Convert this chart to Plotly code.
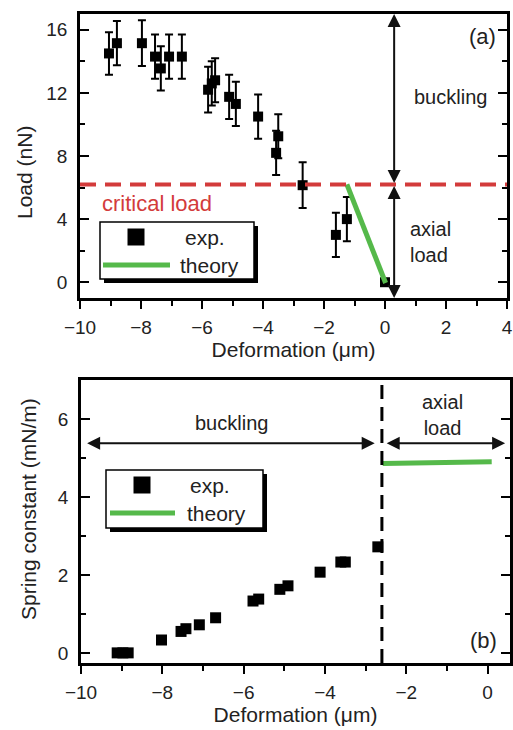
import plotly.graph_objects as go

# ---------------- data ----------------
# Panel (a): load vs deformation
exp_a_x = [-9.05, -8.79, -7.97, -7.54, -7.35, -7.08, -6.66, -5.80, -5.68, -5.57,
           -5.11, -4.89, -4.16, -3.50, -3.57, -2.70, -1.61, -1.25, 0.0]
exp_a_y = [14.5, 15.15, 15.15, 14.3, 13.55, 14.3, 14.3, 12.2, 12.6, 12.8,
           11.75, 11.3, 10.5, 9.25, 8.2, 6.15, 3.0, 4.0, 0.0]
exp_a_err = [1.35, 1.4, 1.45, 1.4, 1.4, 1.4, 1.4, 1.45, 1.4, 1.4,
             1.4, 1.4, 1.4, 1.4, 1.4, 1.45, 1.4, 1.4, 0.0]
theory_a_x = [-1.25, 0.02]
theory_a_y = [6.2, -0.05]
critical_load = 6.2
boundary_a_x = 0.3

# Panel (b): spring constant vs deformation
exp_b_x = [-9.11, -8.97, -8.84, -8.02, -7.54, -7.42, -7.09, -6.69, -5.77, -5.63,
           -5.11, -4.91, -4.12, -3.61, -3.50, -2.70]
exp_b_y = [0.0, 0.0, 0.0, 0.33, 0.55, 0.62, 0.72, 0.9, 1.33, 1.38,
           1.63, 1.72, 2.07, 2.33, 2.33, 2.72]
theory_b_x = [-2.58, -1.6, 0.1]
theory_b_y = [4.86, 4.88, 4.9]
boundary_b_x = -2.6

x_ticks_a = [-10, -8, -6, -4, -2, 0, 2, 4]
y_ticks_a = [0, 4, 8, 12, 16]
x_ticks_b = [-10, -8, -6, -4, -2, 0]
y_ticks_b = [0, 2, 4, 6]

# ---------------- style ----------------
FONT = "Liberation Sans, Arial, sans-serif"
GREEN = "#55b94a"
RED = "#d33b3b"
W, H = 513, 730


def px(x):
    return x / W


def py(y):
    return 1 - y / H


fig = go.Figure()

fig.add_trace(go.Scatter(
    x=exp_a_x, y=exp_a_y, mode="markers", name="exp.",
    marker=dict(symbol="square", size=10, color="black"),
    error_y=dict(type="data", array=exp_a_err, color="black", thickness=2, width=4),
    xaxis="x", yaxis="y", showlegend=False))
fig.add_trace(go.Scatter(
    x=theory_a_x, y=theory_a_y, mode="lines", name="theory",
    line=dict(color=GREEN, width=5), xaxis="x", yaxis="y", showlegend=False))

fig.add_trace(go.Scatter(
    x=exp_b_x, y=exp_b_y, mode="markers", name="exp.",
    marker=dict(symbol="square", size=11, color="black"),
    xaxis="x2", yaxis="y2", showlegend=False))
fig.add_trace(go.Scatter(
    x=theory_b_x, y=theory_b_y, mode="lines", name="theory",
    line=dict(color=GREEN, width=5), xaxis="x2", yaxis="y2", showlegend=False))

axis_common = dict(showline=True, linecolor="black", linewidth=2.5, showgrid=False,
                   zeroline=False, tickcolor="black", tickwidth=2, automargin=False,
                   tickfont=dict(family=FONT, size=19, color="#222"))

fig.update_layout(
    width=W, height=H, margin=dict(l=0, r=0, t=0, b=0, autoexpand=False),
    paper_bgcolor="white", plot_bgcolor="white",
    font=dict(family=FONT, color="#222"),
    xaxis=dict(axis_common, domain=[px(80), px(507)], range=[-10, 4], anchor="y",
               tickvals=x_ticks_a, ticks="outside", ticklen=8, mirror=True,
               minor=dict(dtick=1, ticks="outside", ticklen=5, tickwidth=2, tickcolor="black"),
               ticklabelstandoff=2,
               title=dict(text="Deformation (\u03bcm)", font=dict(family=FONT, size=21), standoff=6)),
    yaxis=dict(axis_common, domain=[py(298), py(14)], range=[-1, 17], anchor="x",
               tickvals=y_ticks_a, ticks="inside", ticklen=9, mirror="ticks",
               minor=dict(dtick=2, ticks="inside", ticklen=5, tickwidth=2, tickcolor="black"),
               ticklabelstandoff=6),
    xaxis2=dict(axis_common, domain=[px(81), px(510)], range=[-10, 0.55], anchor="y2",
                tickvals=x_ticks_b, ticks="outside", ticklen=8, mirror=True,
                minor=dict(dtick=1, ticks="outside", ticklen=5, tickwidth=2, tickcolor="black"),
                ticklabelstandoff=2,
                title=dict(text="Deformation (\u03bcm)", font=dict(family=FONT, size=21), standoff=6)),
    yaxis2=dict(axis_common, domain=[py(663), py(380)], range=[-0.26, 7.0], anchor="x2",
                tickvals=y_ticks_b, ticks="inside", ticklen=9, mirror="ticks",
                minor=dict(dtick=1, ticks="inside", ticklen=5, tickwidth=2, tickcolor="black"),
                ticklabelstandoff=6),
)

shapes = []
# critical load dashed line
shapes.append(dict(type="line", xref="x domain", yref="y", x0=0, x1=1,
                   y0=critical_load, y1=critical_load,
                   line=dict(color=RED, width=4, dash="16px,9px")))
# boundary dashed line panel (b)
shapes.append(dict(type="line", xref="x2", yref="y2 domain", x0=boundary_b_x, x1=boundary_b_x,
                   y0=0, y1=1, line=dict(color="black", width=3, dash="14px,8px")))


def legend_shapes(l, t, r, b, sq_c, sq_s, ln):
    out = []
    out.append(dict(type="rect", xref="paper", yref="paper", x0=px(l + 4), x1=px(r + 4),
                    y0=py(b + 4), y1=py(t + 4), fillcolor="black", line=dict(width=0)))
    out.append(dict(type="rect", xref="paper", yref="paper", x0=px(l), x1=px(r),
                    y0=py(b), y1=py(t), fillcolor="white", line=dict(color="black", width=1.5)))
    cx, cy = sq_c
    out.append(dict(type="rect", xref="paper", yref="paper",
                    x0=px(cx - sq_s / 2), x1=px(cx + sq_s / 2),
                    y0=py(cy + sq_s / 2), y1=py(cy - sq_s / 2),
                    fillcolor="black", line=dict(width=0)))
    x0, x1, yy = ln
    out.append(dict(type="line", xref="paper", yref="paper", x0=px(x0), x1=px(x1),
                    y0=py(yy), y1=py(yy), line=dict(color=GREEN, width=5)))
    return out


shapes += legend_shapes(100, 222, 254, 279, (136, 237), 17, (103, 170, 265))
shapes += legend_shapes(106, 470, 263, 528, (142, 485), 17, (110, 175, 513))
fig.update_layout(shapes=shapes)

ann = []


def text(x, y, s, size=20, xref="x", yref="y", xanchor="center", color="#222", align="center", angle=0):
    ann.append(dict(x=x, y=y, xref=xref, yref=yref, text=s, showarrow=False,
                    xanchor=xanchor, yanchor="middle", align=align, textangle=angle,
                    font=dict(family=FONT, size=size, color=color)))


def arrow(x0, y0, x1, y1, xref, yref):
    ann.append(dict(x=x1, y=y1, ax=x0, ay=y0, xref=xref, yref=yref, axref=xref, ayref=yref,
                    text="", showarrow=True, arrowhead=2, startarrowhead=2, arrowside="end+start",
                    arrowsize=1.3, startarrowsize=1.3, arrowwidth=2, arrowcolor="#111",
                    standoff=0, startstandoff=0))


# panel (a)
arrow(boundary_a_x, critical_load, boundary_a_x, 17, "x", "y")
arrow(boundary_a_x, critical_load, boundary_a_x, -1, "x", "y")
text(2.16, 11.75, "buckling")
text(0.75, 2.54, "axial<br>load", xanchor="left", align="left")
text(3.21, 15.55, "(a)", size=22)
text(-9.34, 5.0, "critical load", size=22, xanchor="left", color=RED)
text(px(25), py(173), "Load (nN)", size=21, xref="paper", yref="paper", angle=-90)
text(px(183), py(237), "exp.", size=21, xref="paper", yref="paper", xanchor="left")
text(px(178), py(265), "theory", size=21, xref="paper", yref="paper", xanchor="left")

# panel (b)
arrow(-2.74, 5.38, -9.85, 5.38, "x2", "y2")
arrow(-2.52, 5.38, 0.43, 5.38, "x2", "y2")
text(-6.31, 5.9, "buckling", xref="x2", yref="y2")
text(-1.12, 6.1, "axial<br>load", xref="x2", yref="y2")
text(-0.11, 0.33, "(b)", size=22, xref="x2", yref="y2")
text(px(28), py(509), "Spring constant (mN/m)", size=21, xref="paper", yref="paper", angle=-90)
text(px(188), py(485), "exp.", size=21, xref="paper", yref="paper", xanchor="left")
text(px(185), py(513), "theory", size=21, xref="paper", yref="paper", xanchor="left")

fig.update_layout(annotations=ann)

fig.write_html("out.html", config={"displayModeBar": False},
               post_script="document.body.style.margin='0';document.body.style.overflow='hidden';")
